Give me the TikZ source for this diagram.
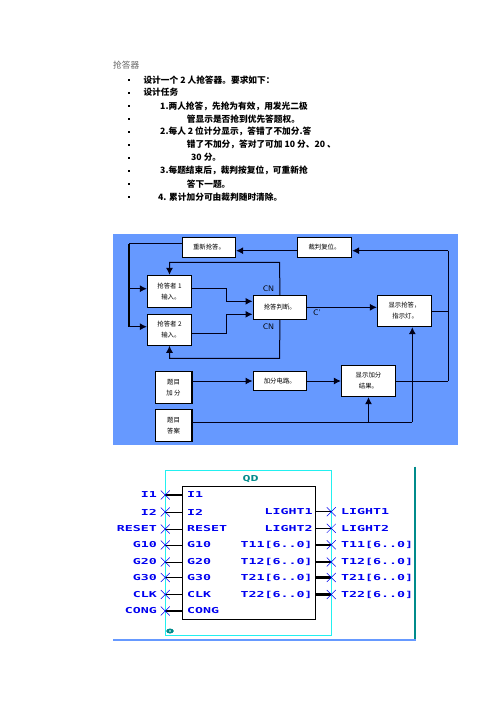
\documentclass[tikz,border=0pt]{standalone}
\usepackage{fontspec}
\setmainfont{Liberation Serif}
\newfontfamily\cjk{Noto Sans CJK SC}
\newfontfamily\pinfont{DejaVu Sans Mono}
\usetikzlibrary{arrows.meta,shapes.misc,shapes.geometric,positioning}
\definecolor{panel}{HTML}{6699FF}
\definecolor{cyanline}{HTML}{22F0F0}
\definecolor{tealc}{HTML}{008B8B}
\definecolor{pinblue}{HTML}{0000F0}
\newcommand{\pintxt}[1]{\scalebox{1.62}[1]{\pinfont\fontsize{8.2}{9}\selectfont\bfseries #1}}
\tikzset{
  x=1pt,y=-1pt,
  tline/.style={anchor=west,inner sep=0pt,font=\cjk\bfseries\fontsize{8.7}{9}\selectfont,text=black},
  dotb/.style={fill=black,inner sep=0pt,minimum size=1.6pt,rectangle},
  blk/.style={draw=black,fill=white,line width=0.9pt,inner sep=0pt,align=center,font=\cjk\fontsize{6.4}{11}\selectfont},
  conn/.style={line width=1pt,draw=black!90!blue},
  bus/.style={line width=1.7pt,draw=black},
  arr/.style={-{Latex[length=7pt,width=7pt]}},
  xm/.style={cross out,draw=pinblue,line width=0.5pt,minimum size=8.5pt,inner sep=0pt},
  pinl/.style={inner sep=0pt,text=pinblue},
  pinw/.style={draw=black,line width=1pt},
  pinb/.style={draw=black,line width=2.3pt},
}
\begin{document}
\begin{tikzpicture}
\useasboundingbox (0,0) rectangle (496,702);
\fill[white] (0,0) rectangle (496,702);
% text
\node[tline,font=\cjk\fontsize{8.7}{9}\selectfont,text=black!60] (title) at (113,65) {抢答器};
\foreach \n/\y in {a/80,b/92.7,c/106,d/118.7,e/131.7,f/144.7,g/157.7,h/170.7,i/184,j/196.7}
  \node[dotb] (dot\n) at (129,\y) {};
\node[tline] (l1) at (143.3,80) {设计一个 2 人抢答器。要求如下：};
\node[tline] (l2) at (143.3,92.7) {设计任务};
\node[tline] (l3) at (160,106) {1.两人抢答，先抢为有效，用发光二极};
\node[tline] (l4) at (186.7,118.7) {管显示是否抢到优先答题权。};
\node[tline] (l5) at (160,131.7) {2.每人 2 位计分显示，答错了不加分.答};
\node[tline] (l6) at (186.7,144.7) {错了不加分，答对了可加 10 分、20 、};
\node[tline] (l7) at (191,157.7) {30 分。};
\node[tline] (l8) at (160,170.7) {3.每题结束后，裁判按复位，可重新抢};
\node[tline] (l9) at (186.7,184) {答下一题。};
\node[tline] (l10) at (158,196.7) {4. 累计加分可由裁判随时清除。};
% panel
\fill[panel] (113,234) rectangle (458,445);
\newcommand{\bx}[6]{\node[blk,minimum width=#4pt,minimum height=#5pt] (#1) at (#2,#3) {#6};}
\bx{rst}{209}{247.3}{53.4}{20}{重新抢答。}
\bx{ref}{324.5}{247.3}{54.4}{20}{裁判复位。}
\bx{pa}{169.5}{291.3}{44.4}{32}{抢答者 1\\ \ \ 输入。}
\bx{pb}{169.5}{329.8}{44.4}{31}{抢答者 2\\ \ \ 输入。}
\bx{jud}{279.8}{307.3}{53.7}{24}{抢答判断。}
\bx{ind}{404.5}{311}{54.4}{31.4}{显示抢答，\\ \ 指示灯。}
\bx{qa}{173.5}{387.3}{36.4}{32}{题目\\加 分}
\bx{qb}{173.5}{425.3}{36.4}{32}{题目\\答案}
\bx{add}{279.8}{381}{53.7}{19.4}{加分电路。}
\bx{res}{368.5}{381}{54.4}{31.4}{显示加分\\结果。}
\draw[line width=1.4pt] (qa.north east) -- (qa.south east);
\draw[line width=1.4pt] (qb.north east) -- (qb.south east);
% junction points
\coordinate (busT) at (129,243.7);
\coordinate (busB) at (129,326.7);
\coordinate (busM) at (129,288.7);
\coordinate (rgt) at (448.3,250.7);
\coordinate (topJ) at (279.7,262.3);
\coordinate (botJ) at (279.7,358.3);
\coordinate (m1) at (226.7,288.7);
\coordinate (m2) at (226.7,333.3);
\coordinate (ansR) at (412.3,422.3);
% connectors
\draw[conn] (rst.west |- busT) -- (busT);
\draw[bus] (busT) -- (busB);
\draw[conn,arr] (busM) -- (pa.west |- busM);
\draw[conn,arr] (busB) -- (pb.west |- busB);
\draw[conn,arr] (ref.west |- 0,250.7) -- (rst.east |- 0,250.7);
\draw[conn,arr] (rgt) -- (ref.east |- rgt);
\draw[conn] (rgt) -- (rgt |- res.east);
\draw[conn] (res.east) -- (rgt |- res.east) ;
\draw[conn] (ind.east) -- (rgt |- ind.east);
\draw[conn,arr] (jud.north) -- (topJ) -| (pa.north);
\draw[conn,arr] (jud.south) -- (botJ) -| (pb.south);
\draw[conn,arr] (pa.east |- m1) -- (m1) |- (jud.west |- 0,301.3);
\draw[conn,arr] (pb.east |- m2) -- (m2) |- (jud.west |- 0,314.3);
\draw[conn,arr] (jud.east) -- (ind.west |- jud.east);
\draw[conn,arr] (qa.east |- add.west) -- (add.west);
\draw[conn,arr] (add.east) -- (res.west);
\draw[conn] (qb.east |- ansR) -- (ansR);
\draw[conn,arr] (ansR) -- (ansR |- ind.south);
\draw[conn,arr] (res.south |- ansR) -- (res.south);
% labels on the panel
\node[inner sep=0pt,font=\fontsize{8}{8}\selectfont\sffamily] (cn1) at (268.5,288.7) {CN};
\node[inner sep=0pt,font=\fontsize{8}{8}\selectfont\sffamily] (cn2) at (268.5,326.7) {CN};
\node[inner sep=0pt,font=\fontsize{8}{8}\selectfont\sffamily] (cp) at (317,313) {C'};
% schematic
\draw[cyanline,line width=1pt] (165.3,470.3) rectangle (331.3,635.3);
\draw[black,line width=1pt] (182.3,486.3) rectangle (315.3,619.3);
\coordinate (qdL) at (182.3,486.3);
\coordinate (qdR) at (315.3,486.3);
\node[inner sep=0pt,text=tealc] (qd) at (250.7,479.3) {\pintxt{QD}};
\foreach \n/\t/\y/\s in {a/I1/495/pinb,b/I2/512/pinw,c/RESET/529/pinw,d/G10/545/pinw,e/G20/562/pinw,f/G30/577.5/pinw,g/CLK/594.5/pinw,h/CONG/611/pinb}{
  \draw[\s] (qdL |- 0,\y) -- (165.3,\y);
  \node[xm] (xl\n) at (165.3,\y) {};
  \node[pinl,anchor=east] (ol\n) at (157,\y) {\pintxt{\t}};
  \node[pinl,anchor=west] (il\n) at (187,\y) {\pintxt{\t}};
}
\foreach \n/\t/\y/\s in {a/LIGHT1/511.7/pinw,b/LIGHT2/528.3/pinw,c/T11[6..0]/544.7/pinb,d/T12[6..0]/562/pinb,e/T21[6..0]/577.5/pinb,f/T22[6..0]/594.5/pinb}{
  \draw[\s] (qdR |- 0,\y) -- (331.3,\y);
  \node[xm] (xr\n) at (331.3,\y) {};
  \node[pinl,anchor=east] (ir\n) at (312.7,\y) {\pintxt{\t}};
  \node[pinl,anchor=west] (or\n) at (341,\y) {\pintxt{\t}};
}
\node[draw=tealc,fill=tealc,ellipse,inner sep=0pt,minimum width=7pt,minimum height=4.5pt] (oval) at (170,631) {};
\node[fill=white,circle,inner sep=0pt,minimum size=1.8pt] (ovali) at (170,631) {};
\draw[tealc,line width=2pt] (415,466.7) -- (415,640);
\draw[panel,line width=2pt] (113,640) -- (416,640);
\end{tikzpicture}
\end{document}
